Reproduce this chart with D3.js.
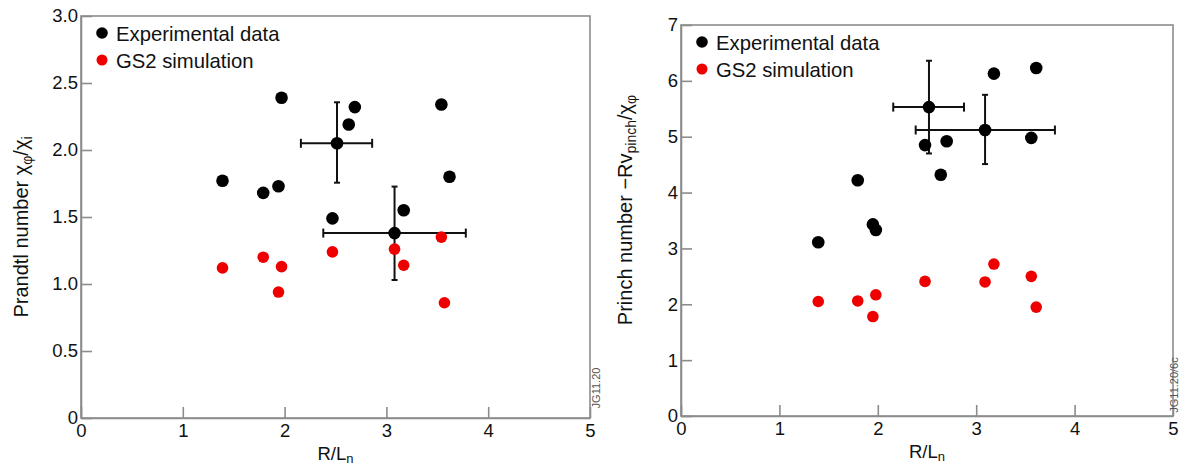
<!DOCTYPE html>
<html><head><meta charset="utf-8">
<script src="https://cdn.jsdelivr.net/npm/d3@7"></script>
<style>
html,body{margin:0;padding:0;background:#fff;}
svg{display:block;font-family:"Liberation Sans",Arial,Helvetica,sans-serif;}
</style></head>
<body>
<svg id="chart" width="1181" height="466"></svg>
<script>
// ---------- data ----------
const xTicks = [0, 1, 2, 3, 4, 5];
const xTickLabels = ["0", "1", "2", "3", "4", "5"];

const prandtlTicks = [0, 0.5, 1, 1.5, 2, 2.5, 3];
const prandtlTickLabels = ["0", "0.5", "1.0", "1.5", "2.0", "2.5", "3.0"];

const pinchTicks = [0, 1, 2, 3, 4, 5, 6, 7];
const pinchTickLabels = ["0", "1", "2", "3", "4", "5", "6", "7"];

const legendLabels = ["Experimental data", "GS2 simulation"];

// Prandtl number panel
const prandtlExpX = [1.39, 1.79, 1.94, 1.97, 2.515, 2.69, 2.63, 3.54, 3.62, 3.17, 2.47, 3.08];
const prandtlExpY = [1.77, 1.68, 1.73, 2.39, 2.05, 2.32, 2.19, 2.34, 1.80, 1.55, 1.49, 1.38];
const prandtlSimX = [1.39, 1.79, 1.97, 1.94, 2.47, 3.08, 3.17, 3.54, 3.57];
const prandtlSimY = [1.12, 1.20, 1.13, 0.94, 1.24, 1.26, 1.14, 1.35, 0.86];
// error bars: centre x, centre y, x low, x high, y low, y high
const prandtlErrX   = [2.515, 3.08];
const prandtlErrY   = [2.05, 1.38];
const prandtlErrXlo = [2.16, 2.38];
const prandtlErrXhi = [2.86, 3.78];
const prandtlErrYlo = [1.756, 1.03];
const prandtlErrYhi = [2.356, 1.727];

// Pinch number panel
const pinchExpX = [1.395, 1.796, 1.95, 1.98, 2.52, 3.09, 2.48, 2.70, 2.64, 3.18, 3.61, 3.56];
const pinchExpY = [3.11, 4.22, 3.43, 3.33, 5.53, 5.12, 4.85, 4.92, 4.32, 6.13, 6.23, 4.98];
const pinchSimX = [1.395, 1.796, 1.98, 1.95, 2.48, 3.09, 3.18, 3.56, 3.61];
const pinchSimY = [2.05, 2.06, 2.17, 1.78, 2.41, 2.40, 2.72, 2.50, 1.95];
const pinchErrX   = [2.52, 3.09];
const pinchErrY   = [5.53, 5.12];
const pinchErrXlo = [2.157, 2.385];
const pinchErrXhi = [2.876, 3.80];
const pinchErrYlo = [4.70, 4.51];
const pinchErrYhi = [6.36, 5.75];

// ---------- drawing ----------
const svg = d3.select("#chart");
const frameColor = "#8c8c8c";
const tickFont = 18.5;

function zip(xs, ys) { return xs.map((x, i) => ({x: x, y: ys[i]})); }

function panel(opt) {
  const x = d3.scaleLinear().domain([0, 5]).range([opt.left, opt.right]);
  const y = d3.scaleLinear().domain(opt.yDomain).range([opt.bottom, opt.top]);
  const g = svg.append("g");

  // frame
  g.append("rect")
    .attr("x", opt.left).attr("y", opt.top)
    .attr("width", opt.right - opt.left).attr("height", opt.bottom - opt.top)
    .attr("fill", "none").attr("stroke", frameColor).attr("stroke-width", 1.6);

  // axes
  const xAxis = d3.axisBottom(x).tickValues(xTicks)
    .tickFormat((d, i) => xTickLabels[i]).tickSizeInner(-11).tickSizeOuter(0).tickPadding(6);
  const gx = g.append("g").attr("transform", `translate(0,${opt.bottom})`).call(xAxis);
  const yAxis = d3.axisLeft(y).tickValues(opt.yTicks)
    .tickFormat((d, i) => opt.yTickLabels[i]).tickSizeInner(-11).tickSizeOuter(0).tickPadding(3);
  const gy = g.append("g").attr("transform", `translate(${opt.left},0)`).call(yAxis);
  [gx, gy].forEach(a => {
    a.select(".domain").attr("stroke", frameColor).attr("stroke-width", 1.6);
    a.selectAll(".tick line").attr("stroke", frameColor).attr("stroke-width", 1.6);
    a.selectAll(".tick text").attr("fill", "#111").attr("font-size", tickFont)
      .attr("font-family", "Liberation Sans, Arial, sans-serif");
  });

  // error bars
  const errs = opt.errX.map((v, i) => ({x: v, y: opt.errY[i], xlo: opt.errXlo[i], xhi: opt.errXhi[i], ylo: opt.errYlo[i], yhi: opt.errYhi[i]}));
  const eg = g.append("g").attr("stroke", "#111").attr("stroke-width", 2);
  errs.forEach(e => {
    eg.append("line").attr("x1", x(e.xlo)).attr("x2", x(e.xhi)).attr("y1", y(e.y)).attr("y2", y(e.y));
    eg.append("line").attr("x1", x(e.xlo)).attr("x2", x(e.xlo)).attr("y1", y(e.y) - 4.5).attr("y2", y(e.y) + 4.5);
    eg.append("line").attr("x1", x(e.xhi)).attr("x2", x(e.xhi)).attr("y1", y(e.y) - 4.5).attr("y2", y(e.y) + 4.5);
    eg.append("line").attr("x1", x(e.x)).attr("x2", x(e.x)).attr("y1", y(e.ylo)).attr("y2", y(e.yhi));
    eg.append("line").attr("x1", x(e.x) - 3).attr("x2", x(e.x) + 3).attr("y1", y(e.ylo)).attr("y2", y(e.ylo));
    eg.append("line").attr("x1", x(e.x) - 3).attr("x2", x(e.x) + 3).attr("y1", y(e.yhi)).attr("y2", y(e.yhi));
  });

  // points
  g.append("g").selectAll("circle").data(zip(opt.expX, opt.expY)).join("circle")
    .attr("cx", d => x(d.x)).attr("cy", d => y(d.y)).attr("r", 6.3).attr("fill", "#000");
  g.append("g").selectAll("circle").data(zip(opt.simX, opt.simY)).join("circle")
    .attr("cx", d => x(d.x)).attr("cy", d => y(d.y)).attr("r", 5.8).attr("fill", "#ee0000");

  // legend
  const lg = g.append("g").attr("transform", `translate(${opt.left + 21},${opt.top + 17})`);
  ["#000", "#ee0000"].forEach((c, i) => {
    lg.append("circle").attr("cx", 0).attr("cy", i * 27).attr("r", i ? 5.5 : 5.8).attr("fill", c);
    lg.append("text").attr("x", 14).attr("y", i * 27 + 7.5).attr("font-size", 20.3).attr("fill", "#111")
      .text(legendLabels[i]);
  });

  // x label
  const xl = g.append("text").attr("x", (opt.left + opt.right) / 2).attr("y", opt.bottom + 42)
    .attr("text-anchor", "middle").attr("font-size", 18.5).attr("fill", "#111");
  xl.append("tspan").text("R/L");
  xl.append("tspan").attr("font-size", 13).attr("dy", 3).text("n");

  // y label
  const yl = g.append("text").attr("transform", `translate(${opt.yLabelX},${opt.yLabelY}) rotate(-90)`)
    .attr("text-anchor", "middle").attr("font-size", 20).attr("fill", "#111");
  opt.yLabelParts.forEach(p => {
    const t = yl.append("tspan").text(p.t);
    if (p.sub) t.attr("font-size", 14).attr("dy", 4);
    else if (p.after) t.attr("dy", -4);
  });

  // figure code
  g.append("text").attr("transform", `translate(${opt.codeX},${opt.codeY}) rotate(-90)`)
    .attr("text-anchor", "middle").attr("font-size", 11).attr("fill", "#555").text(opt.code);
}

panel({
  left: 81, right: 590, top: 16, bottom: 418,
  yDomain: [0, 3], yTicks: prandtlTicks, yTickLabels: prandtlTickLabels,
  expX: prandtlExpX, expY: prandtlExpY, simX: prandtlSimX, simY: prandtlSimY,
  errX: prandtlErrX, errY: prandtlErrY, errXlo: prandtlErrXlo, errXhi: prandtlErrXhi,
  errYlo: prandtlErrYlo, errYhi: prandtlErrYhi,
  yLabelX: 28, yLabelY: 227,
  yLabelParts: [{t: "Prandtl number χ"}, {t: "φ", sub: true}, {t: "/χ", after: true}, {t: "i", sub: true}],
  code: "JG11.20", codeX: 600, codeY: 388
});

panel({
  left: 681, right: 1173, top: 25, bottom: 416,
  yDomain: [0, 7], yTicks: pinchTicks, yTickLabels: pinchTickLabels,
  expX: pinchExpX, expY: pinchExpY, simX: pinchSimX, simY: pinchSimY,
  errX: pinchErrX, errY: pinchErrY, errXlo: pinchErrXlo, errXhi: pinchErrXhi,
  errYlo: pinchErrYlo, errYhi: pinchErrYhi,
  yLabelX: 632, yLabelY: 210,
  yLabelParts: [{t: "Princh number −Rv"}, {t: "pinch", sub: true}, {t: "/χ", after: true}, {t: "φ", sub: true}],
  code: "JG11.20/6c", codeX: 1178, codeY: 385
});
</script>
</body></html>
